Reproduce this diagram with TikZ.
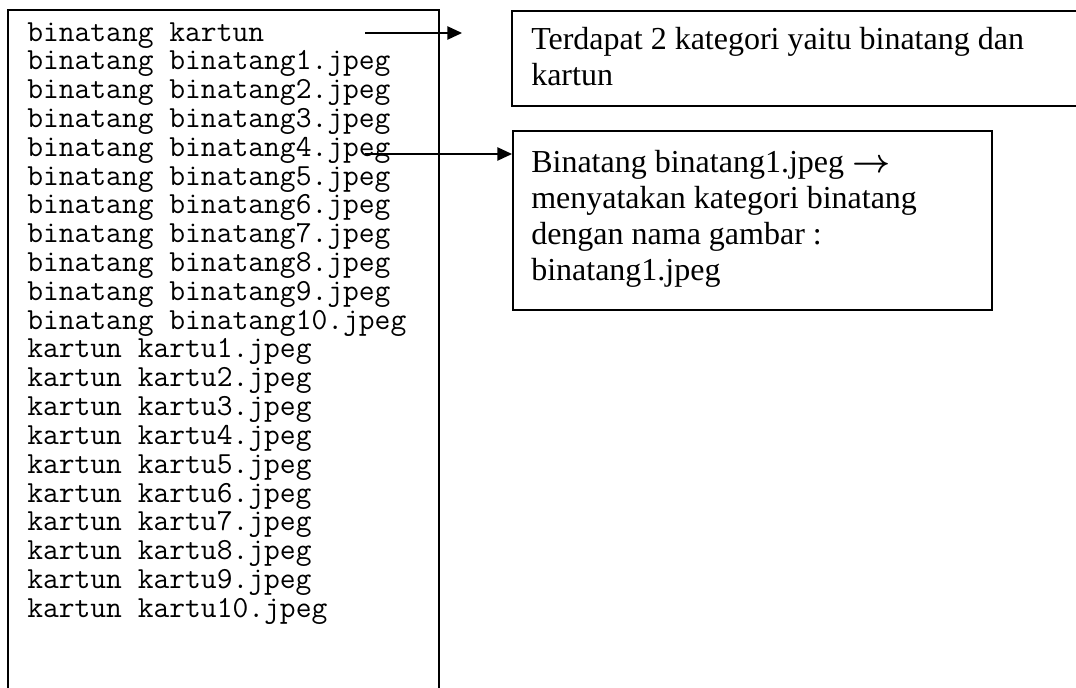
\documentclass[tikz,border=0pt]{standalone}
\usepackage{fontspec}
\setmainfont{Liberation Serif}
\usetikzlibrary{arrows.meta}
\begin{document}
\begin{tikzpicture}[x=0.75pt,y=-0.75pt,
  frame/.style={draw=black,line width=1.3pt},
  codeline/.style={anchor=base west,inner sep=0pt,
    font=\fontsize{23}{24}\selectfont\ttfamily},
  noteline/.style={anchor=base west,inner sep=0pt,
    font=\fontsize{24}{27}\selectfont},
  pointer/.style={line width=1.1pt,-{Triangle[length=11pt,width=10pt]}}]
\useasboundingbox (0,0) rectangle (1076,688);

% frame of the listing, running off the bottom edge
\draw[frame] (8,688) -- (8,10) -- (439,10) -- (439,688);

% listing lines
\foreach \t [count=\i] in {binatang kartun,
  binatang binatang1.jpeg, binatang binatang2.jpeg,
  binatang binatang3.jpeg, binatang binatang4.jpeg,
  binatang binatang5.jpeg, binatang binatang6.jpeg,
  binatang binatang7.jpeg, binatang binatang8.jpeg,
  binatang binatang9.jpeg, binatang binatang10.jpeg,
  kartun kartu1.jpeg, kartun kartu2.jpeg, kartun kartu3.jpeg,
  kartun kartu4.jpeg, kartun kartu5.jpeg, kartun kartu6.jpeg,
  kartun kartu7.jpeg, kartun kartu8.jpeg, kartun kartu9.jpeg,
  kartun kartu10.jpeg}
  \node[codeline] (code\i) at (27,{41.2+28.8*(\i-1)}) {\t};

% explanation boxes
\node[frame,anchor=north west,minimum width=434pt,minimum height=71.25pt,
  inner sep=0pt] (box1) at (511,10) {};
\node[frame,anchor=north west,minimum width=359.25pt,minimum height=134.25pt,
  inner sep=0pt] (box2) at (512,130) {};

\node[noteline] (n1a) at (531,50) {Terdapat 2 kategori yaitu binatang dan};
\node[noteline] (n1b) at (531,86) {kartun};

\node[noteline] (n2a) at (531,173) {Binatang binatang1.jpeg {\boldmath$\rightarrow$}};
\node[noteline] (n2b) at (531,209) {menyatakan kategori binatang};
\node[noteline] (n2c) at (531,245) {dengan nama gambar :};
\node[noteline] (n2d) at (531,281) {binatang1.jpeg};

% pointers
\coordinate (tailA) at (365,33);
\coordinate (tipA) at (462,33);
\coordinate (tailB) at (365,154);
\draw[pointer] (tailA) -- (tipA);
\draw[pointer] (tailB) -- (tailB -| box2.west);
\end{tikzpicture}
\end{document}
